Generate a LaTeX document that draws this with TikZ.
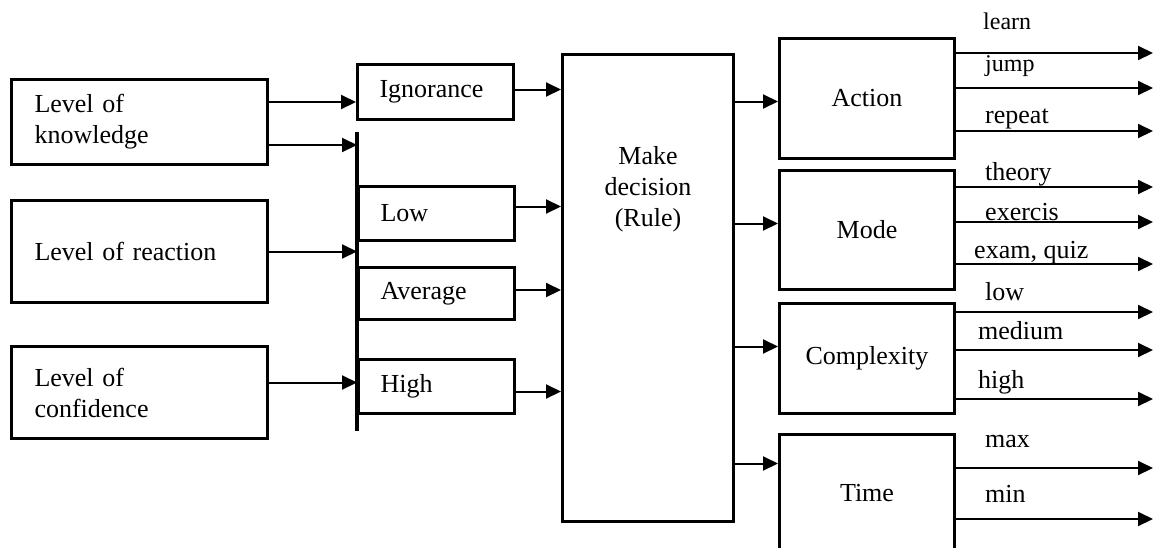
\documentclass[tikz,border=0pt]{standalone}
\usepackage{fontspec}
\setmainfont{Liberation Serif}
\usetikzlibrary{positioning,arrows.meta}

\tikzset{
  lbox/.style={draw=black, line width=3pt, anchor=north west, minimum width=256pt, text width=210pt, inner xsep=23pt, align=left, font=\fontsize{26}{31}\selectfont},
  sbox/.style={draw=black, line width=3pt, anchor=north west, minimum width=155pt, text width=112pt, inner xsep=22pt, align=left, font=\fontsize{26}{31}\selectfont},
  rbox/.style={draw=black, line width=3pt, minimum width=175pt, font=\fontsize{26}{31}\selectfont},
  arr/.style={line width=2pt, -{Triangle[length=15pt,width=14pt]}},
  outlbl/.style={anchor=base west, inner sep=0pt},
}

\begin{document}
\begin{tikzpicture}[x=1pt,y=-1pt]
\useasboundingbox (0,0) rectangle (1154,547);
\clip (0,0) rectangle (1154,547);

% inputs
\node[lbox, minimum height=85pt] (know) at (10,78) {Level of\\knowledge};
\node[lbox, minimum height=102pt] (react) at (10,199) {Level of reaction};
\node[lbox, minimum height=92pt] (conf) at (10,345) {Level of\\confidence};

% levels
\node[sbox, minimum height=55pt] (ign) at (356,63) {Ignorance};
\node[sbox, minimum height=54pt] (low) at (357,185) {Low};
\node[sbox, minimum height=52pt] (avg) at (357,266) {Average};
\node[sbox, minimum height=54pt] (high) at (357,358) {High};
\draw[line width=4.5pt] (357,132) coordinate (bartop) -- (357,431) coordinate (barbot);

\draw[arr] ([yshift=20pt]know.east) coordinate (k1) -- (k1 -| ign.west);
\draw[arr] ([yshift=-23pt]know.east) coordinate (k2) -- (k2 -| bartop);
\draw[arr] (react.east) -- (react.east -| bartop);
\draw[arr] ([yshift=10pt]conf.east) coordinate (k3) -- (k3 -| bartop);

% decision
\node[draw=black, line width=3pt, anchor=north west, minimum width=171pt, minimum height=467pt] (dec) at (561,53) {};
\node[align=center, anchor=north, inner sep=0pt, font=\fontsize{26}{31}\selectfont] (dectext) at ([yshift=-93pt]dec.north) {Make\\decision\\(Rule)};

\foreach \n/\s in {ign/2.5,low/7,avg/3.5,high/-5}{
  \path ([yshift=\s pt]\n.east) coordinate (src\n);
  \draw[arr] (src\n) -- (src\n -| dec.west);
}

% outputs
\node[rbox, anchor=north west, minimum height=120pt] (act) at (778,37) {Action};
\node[rbox, minimum height=119pt, below=9pt of act] (mode) {Mode};
\node[rbox, minimum height=110pt, below=11pt of mode] (cx) {Complexity};
\node[rbox, minimum height=118pt, below=18pt of cx] (time) {Time};

\foreach \n/\s in {act/-3,mode/6.5,cx/12,time/30}{
  \path ([yshift=\s pt]\n.west) coordinate (tip\n);
  \draw[arr] (tip\n -| dec.east) -- (tip\n);
}

\coordinate (rend) at (1153,0);
\foreach \src/\y/\b/\x/\fs/\lbl [count=\i] in {
  act/53/29/983/24/learn, act/88/71/985/24/jump, act/131/123/985/26/repeat,
  mode/187/180/985/26/theory, mode/222/220/985/26/exercis, mode/264/258/974/26/{exam, quiz},
  cx/312/300/985/26/low, cx/350/339/978/26/medium, cx/399/388/978/26/high,
  time/468/447/985/26/max, time/519/502/985/26/min}{
  \draw[arr] (\src.east |- 0,\y) -- (rend |- 0,\y);
  \node[outlbl, font=\fontsize{\fs}{30}\selectfont] (o\i) at (\x,\b) {\lbl};
}
\end{tikzpicture}
\end{document}
